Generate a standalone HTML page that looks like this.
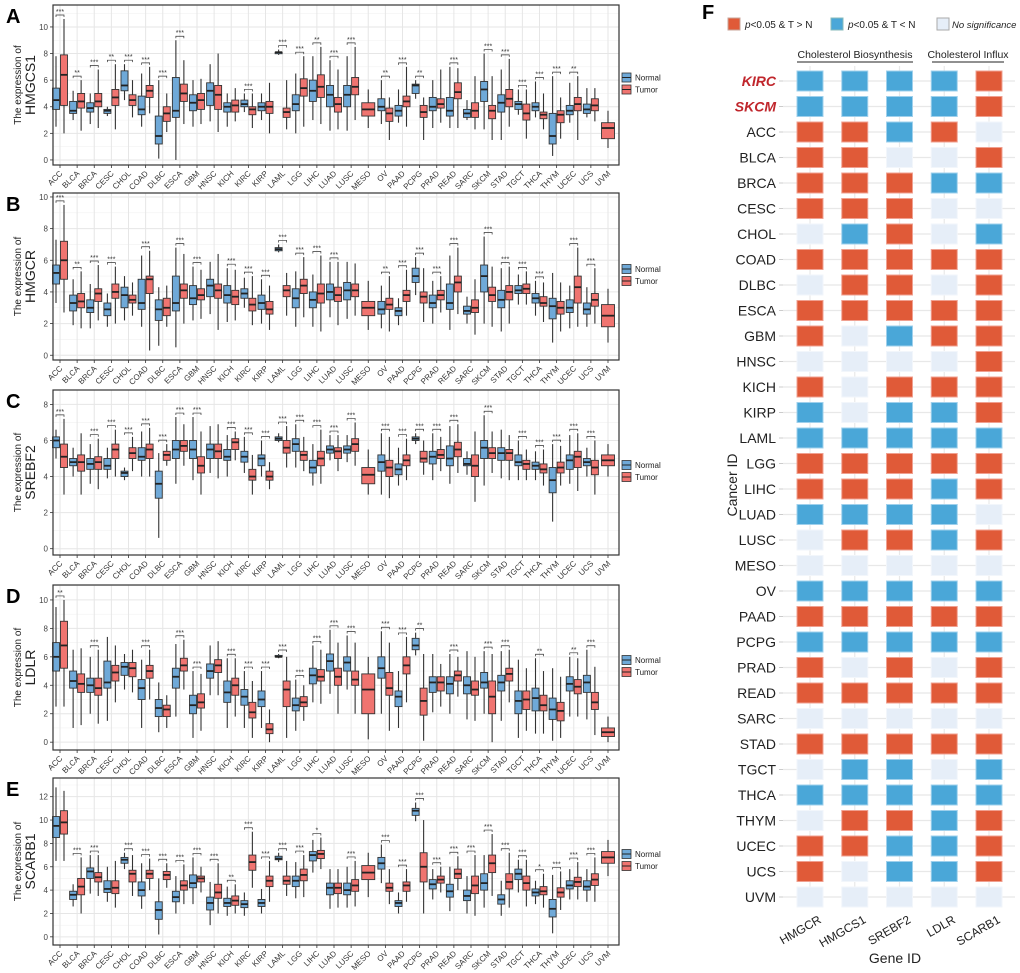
<!DOCTYPE html>
<html><head><meta charset="utf-8">
<style>
html,body{margin:0;padding:0;background:#fff;}
svg{display:block;font-family:"Liberation Sans",Arial,sans-serif;}
</style></head>
<body>
<svg id="fig" width="1020" height="973" viewBox="0 0 1020 973" xmlns="http://www.w3.org/2000/svg"></svg>
<script>
const cancers=["ACC","BLCA","BRCA","CESC","CHOL","COAD","DLBC","ESCA","GBM","HNSC","KICH","KIRC","KIRP","LAML","LGG","LIHC","LUAD","LUSC","MESO","OV","PAAD","PCPG","PRAD","READ","SARC","SKCM","STAD","TGCT","THCA","THYM","UCEC","UCS","UVM"];
const _=null;
// Panel A HMGCS1
const aNq1=[3.8,3.5,3.6,3.5,5.2,3.4,1.2,3.2,3.7,4.1,3.6,4.0,3.7,8.0,3.7,4.4,4.0,4.0,_,3.7,3.3,5.0,3.7,3.3,3.2,4.4,3.6,3.8,3.7,1.2,3.4,3.5,_];
const aNmed=[4.5,3.7,3.9,3.7,5.6,3.8,1.8,3.7,4.3,5.2,4.0,4.2,4.0,8.1,4.2,5.2,4.9,4.9,_,4.0,3.7,5.6,4.0,3.7,3.5,5.3,4.3,4.2,4.0,1.8,3.7,3.8,_];
const aNq3=[5.4,4.4,4.3,3.8,6.7,4.8,3.3,6.2,4.9,5.8,4.3,4.5,4.3,8.1,4.9,6.0,5.6,5.6,_,4.6,4.1,5.7,4.7,4.7,3.8,5.9,4.9,4.4,4.3,3.5,4.1,4.2,_];
const aNlo=[2.5,3.0,2.7,3.3,4.5,2.5,0.1,0.0,2.5,2.9,2.5,3.6,3.0,7.9,2.0,3.0,2.2,2.2,_,2.7,2.8,4.6,2.4,2.4,3.0,2.3,1.5,3.4,3.2,0.3,2.8,3.2,_];
const aNhi=[7.8,5.2,5.0,4.0,7.2,6.5,6.0,9.0,6.0,7.2,5.0,5.0,5.0,8.3,6.5,7.8,7.5,7.8,_,6.0,5.3,6.0,6.0,7.0,4.5,8.0,6.8,5.3,5.9,6.3,5.8,5.4,_];
const aTq1=[4.1,3.9,4.0,4.1,4.1,4.7,2.9,4.4,3.8,3.8,3.6,3.4,3.5,3.2,4.8,4.7,3.6,4.9,3.3,2.9,4.0,3.2,3.9,4.6,3.2,3.1,4.0,3.0,3.1,2.8,3.7,3.7,1.6];
const aTmed=[6.4,4.4,4.4,4.7,4.5,5.2,3.5,5.0,4.5,4.9,4.1,3.8,4.0,3.6,5.4,5.5,4.2,5.5,3.8,3.5,4.4,3.6,4.2,5.1,3.7,3.7,4.6,3.5,3.4,3.4,4.2,4.1,2.4];
const aTq3=[7.9,5.0,5.0,5.3,4.9,5.6,4.0,5.7,5.0,5.6,4.5,4.0,4.4,3.9,6.1,6.4,4.7,6.2,4.3,3.9,4.8,4.1,4.6,5.8,4.3,4.1,5.3,4.2,3.6,3.7,4.7,4.6,2.8];
const aTlo=[2.0,2.2,2.4,2.3,3.2,3.5,2.1,2.7,2.7,2.1,2.9,2.4,2.0,2.3,2.5,2.7,2.3,3.0,2.4,1.5,2.5,1.5,2.8,2.4,2.3,1.5,2.5,1.6,2.3,1.6,1.5,2.9,0.9];
const aThi=[10.6,6.0,6.8,7.2,6.0,7.0,5.0,7.5,6.1,8.0,5.4,5.0,5.8,6.0,7.8,8.5,6.8,8.5,5.3,4.7,7.0,4.7,6.8,6.9,6.3,6.3,7.6,5.3,5.0,4.7,6.3,5.4,3.7];
const aSig=["***","**","***","**","***","***","***","***","","","","***","","***","***","**","***","***","","**","***","**","","***","","***","***","***","***","***","**","",""];
// Panel B HMGCR
const bNq1=[4.5,2.8,2.7,2.5,3.0,2.9,2.2,2.8,3.2,3.7,3.3,3.6,2.9,6.6,3.0,3.0,3.5,3.5,_,2.6,2.5,4.6,3.0,2.9,2.6,4.0,3.0,3.9,3.3,2.3,2.7,2.6,_];
const bNmed=[5.2,3.3,3.0,2.9,3.8,3.3,2.9,3.3,3.6,4.4,3.8,3.9,3.3,6.7,3.6,3.5,4.0,4.1,_,2.9,2.8,5.0,3.3,3.3,2.8,5.0,3.5,4.1,3.6,3.1,3.0,2.9,_];
const bNq3=[5.7,3.8,3.5,3.3,4.3,4.8,3.5,5.0,4.4,4.8,4.4,4.2,3.8,6.8,4.2,4.0,4.5,4.6,_,3.4,3.0,5.5,3.8,4.5,3.1,5.7,4.1,4.4,3.9,3.6,3.5,3.3,_];
const bNlo=[3.3,1.9,1.7,1.8,2.2,1.8,0.6,0.5,2.2,2.6,2.1,3.0,2.0,6.5,1.8,1.8,2.4,2.3,_,1.7,1.9,3.8,2.0,1.6,2.0,2.0,1.5,3.2,2.5,0.8,1.7,1.8,_];
const bNhi=[7.3,4.8,4.5,3.9,5.0,6.3,4.3,6.8,5.6,5.9,5.5,4.9,4.8,7.0,5.3,5.1,5.9,5.9,_,4.4,3.6,6.2,4.7,6.3,3.7,7.5,5.5,5.1,4.7,5.2,4.4,4.3,_];
const bTq1=[4.8,3.0,3.4,3.6,3.3,3.9,2.5,3.6,3.5,3.6,3.2,2.8,2.6,3.7,3.9,3.3,3.4,3.7,2.5,2.9,3.4,3.3,3.5,4.0,2.7,3.4,3.5,3.9,3.1,2.6,3.3,3.1,1.8];
const bTmed=[6.0,3.4,3.9,4.0,3.5,4.8,3.0,4.1,3.8,4.1,3.7,3.2,2.9,4.1,4.4,3.9,3.8,4.1,3.0,3.2,3.8,3.7,3.8,4.6,3.0,3.8,4.0,4.2,3.3,3.0,4.3,3.5,2.5];
const bTq3=[7.2,3.9,4.2,4.5,3.8,5.0,3.6,4.5,4.2,4.5,4.1,3.6,3.4,4.4,4.8,4.5,4.3,4.5,3.4,3.6,4.1,4.0,4.1,5.0,3.5,4.3,4.4,4.5,3.7,3.4,5.0,3.9,3.2];
const bTlo=[2.7,1.7,2.2,2.0,2.5,0.3,1.8,2.0,2.3,1.6,2.2,1.9,1.6,2.5,2.4,1.5,1.9,2.5,1.6,1.5,2.5,2.1,2.7,2.6,1.3,1.8,2.0,3.2,2.1,1.5,1.8,2.0,0.8];
const bThi=[9.5,5.3,5.7,5.6,4.6,6.6,4.4,6.4,5.4,6.4,5.4,5.0,4.4,5.2,6.2,6.3,5.9,5.8,4.7,5.0,5.4,5.5,5.0,6.8,4.8,5.6,5.6,5.3,4.6,4.6,6.8,5.5,4.2];
const bSig=["***","**","***","***","","***","","***","***","","***","***","***","***","***","***","***","","","**","***","***","***","***","","***","***","***","***","","***","***",""];
// Panel C SREBF2
const cNq1=[5.6,4.6,4.4,4.4,4.0,4.9,2.8,5.0,5.0,5.0,4.9,4.8,4.6,6.0,5.4,4.2,5.3,5.3,_,4.3,4.1,6.0,4.7,4.6,4.6,5.0,4.9,4.6,4.4,3.1,4.4,4.6,_];
const cNmed=[6.0,4.8,4.7,4.6,4.2,5.1,3.6,5.5,5.5,5.5,5.1,5.1,5.0,6.1,5.8,4.5,5.5,5.5,_,4.8,4.4,6.1,5.1,5.0,4.7,5.6,5.3,4.8,4.6,3.8,4.9,4.8,_];
const cNq3=[6.2,5.0,5.0,5.0,4.3,5.6,4.3,6.0,6.0,5.8,5.5,5.4,5.2,6.2,6.1,4.9,5.7,5.7,_,5.2,4.7,6.2,5.4,5.7,5.0,6.0,5.6,5.2,4.8,4.5,5.2,5.0,_];
const cNlo=[5.0,4.0,3.6,3.9,3.8,4.0,0.6,3.6,3.8,4.2,4.0,4.2,4.0,5.9,4.5,3.5,4.9,4.8,_,3.0,3.5,5.8,3.8,3.6,4.1,3.5,3.9,3.8,3.8,1.5,3.6,4.0,_];
const cNhi=[6.6,5.6,5.8,5.6,4.5,6.5,5.3,7.3,7.3,6.8,6.3,6.2,6.0,6.4,6.9,5.8,6.3,6.3,_,6.4,5.6,6.4,6.4,6.8,5.4,7.4,6.6,6.0,5.4,5.8,6.3,5.6,_];
const cTq1=[4.5,4.3,4.4,5.0,5.0,5.0,4.9,5.4,4.2,5.0,5.5,3.8,3.8,5.3,4.9,4.6,5.0,5.4,3.6,4.0,4.6,4.8,5.0,5.1,4.0,5.0,4.9,4.4,4.2,4.2,4.5,4.1,4.6];
const cTmed=[5.1,4.8,4.8,5.5,5.3,5.5,5.2,5.7,4.6,5.4,5.9,4.0,4.0,5.6,5.2,5.0,5.4,5.8,4.1,4.5,4.9,5.0,5.2,5.5,4.6,5.3,5.3,4.7,4.4,4.5,5.1,4.5,4.9];
const cTq3=[5.8,5.2,5.1,5.8,5.6,5.8,5.4,6.0,5.1,5.8,6.1,4.4,4.3,6.0,5.4,5.4,5.6,6.1,4.5,4.9,5.2,5.4,5.5,5.9,5.2,5.6,5.5,4.9,4.7,4.8,5.4,4.9,5.2];
const cTlo=[3.0,3.0,3.3,4.0,4.3,4.0,4.6,4.6,3.0,3.9,4.9,3.0,3.3,4.5,4.3,3.6,4.3,4.6,3.0,2.8,3.8,4.1,4.3,4.2,2.6,4.2,3.8,3.8,3.5,3.5,3.2,3.0,4.0];
const cThi=[7.2,6.4,6.1,6.6,6.2,6.7,5.8,6.9,6.5,6.9,6.5,5.2,4.8,6.8,6.2,6.6,6.3,7.0,5.5,6.2,6.1,6.0,6.2,6.9,6.5,6.5,6.3,5.5,5.5,5.7,6.4,6.0,5.8];
const cSig=["***","","***","***","***","***","***","***","***","","***","***","***","***","***","***","***","***","","***","***","***","***","***","","***","","***","***","***","***","***",""];
// Panel D LDLR
const dNq1=[5.0,3.8,3.5,3.8,4.7,3.0,1.8,3.8,2.0,4.5,2.8,2.6,2.5,6.0,2.2,4.1,5.0,5.0,_,4.5,2.5,6.5,3.5,3.4,3.4,3.8,3.6,2.0,2.2,1.6,3.6,3.5,_];
const dNmed=[6.0,4.3,4.0,4.2,5.3,3.8,2.4,4.6,2.6,5.0,3.5,3.2,3.0,6.0,2.6,4.7,5.7,5.6,_,5.2,3.2,6.8,4.2,4.1,4.0,4.2,4.2,2.9,3.1,2.3,4.1,4.2,_];
const dNq3=[7.0,5.0,4.5,5.7,5.6,4.4,3.0,5.2,3.3,5.5,4.3,3.7,3.6,6.1,3.1,5.2,6.2,6.0,_,6.0,3.6,7.3,4.6,4.6,4.6,4.9,4.7,3.6,3.8,3.1,4.6,4.7,_];
const dNlo=[2.5,1.0,2.0,1.5,3.7,1.0,0.7,1.8,0.3,3.3,1.0,1.0,1.0,5.9,0.8,2.8,3.4,3.7,_,2.0,1.0,6.1,2.1,2.0,1.6,2.0,1.5,0.3,0.6,0.1,1.8,1.6,_];
const dNhi=[9.5,6.5,6.0,7.4,6.2,5.8,4.2,6.9,5.0,6.8,5.9,5.0,5.0,6.2,4.4,6.8,7.9,7.5,_,7.8,5.0,7.7,6.2,6.2,6.4,6.4,6.4,5.8,5.9,5.2,6.0,6.5,_];
const dTq1=[5.2,3.5,3.3,4.3,4.6,4.5,1.8,5.0,2.4,4.9,3.3,1.7,0.6,2.5,2.5,4.3,4.0,4.0,2.0,3.3,4.8,1.9,3.6,4.3,3.3,2.0,4.3,2.3,2.2,1.5,3.4,2.3,0.4];
const dTmed=[6.8,4.1,3.8,4.9,5.2,5.0,2.3,5.4,2.8,5.4,4.0,2.1,0.9,3.7,2.8,4.6,4.6,4.4,3.7,3.8,5.4,2.9,4.2,4.7,3.7,3.2,4.8,3.0,2.6,2.2,3.9,2.8,0.7];
const dTq3=[8.5,4.8,4.5,5.4,5.6,5.4,2.6,5.9,3.4,5.8,4.5,2.8,1.3,4.3,3.2,5.1,5.2,5.0,4.8,4.9,6.0,3.8,4.6,5.0,4.3,4.3,5.2,3.6,3.3,2.8,4.4,3.5,1.0];
const dTlo=[2.5,1.2,1.3,2.8,3.5,3.0,1.0,3.7,0.8,3.3,1.8,0.3,0.0,0.3,1.5,2.7,2.0,2.0,0.2,0.8,2.8,0.1,2.5,3.2,1.5,0.0,2.8,0.8,0.6,0.3,1.8,0.5,0.0];
const dThi=[10.0,6.6,6.5,6.8,6.5,6.5,3.3,7.2,4.8,7.1,5.9,4.3,2.3,6.0,4.0,6.5,7.0,7.0,6.0,7.0,7.4,6.2,5.5,6.0,6.0,6.2,6.5,5.2,5.0,4.6,5.9,5.3,1.8];
const dSig=["**","","***","","","***","","***","***","","***","***","***","***","***","***","***","***","","***","***","**","","***","","***","***","","**","","**","***",""];
// Panel E SCARB1
const eNq1=[8.5,3.2,5.0,3.8,6.3,3.5,1.5,3.0,4.2,2.3,2.6,2.5,2.6,6.6,4.3,6.5,3.6,3.6,_,5.8,2.6,10.4,4.1,3.4,3.1,4.0,2.8,4.9,3.5,1.7,4.1,4.0,_];
const eNmed=[9.5,3.6,5.6,4.1,6.6,4.0,2.3,3.4,4.6,2.9,2.9,2.8,2.9,6.7,4.8,7.0,4.2,4.0,_,6.3,2.9,10.8,4.5,3.9,3.5,4.6,3.2,5.4,3.8,2.4,4.4,4.3,_];
const eNq3=[10.3,3.9,5.9,4.8,6.8,4.7,3.0,3.9,5.3,3.4,3.3,3.1,3.2,6.9,5.2,7.3,4.6,4.6,_,6.8,3.1,11.0,4.9,4.5,4.0,5.4,3.6,5.8,4.1,3.2,4.8,4.8,_];
const eNlo=[6.5,2.6,3.7,3.0,5.8,2.4,0.2,2.0,2.8,1.0,1.8,1.8,2.0,6.4,3.3,5.5,2.4,2.5,_,4.6,2.0,9.9,3.2,2.2,2.0,2.5,1.8,3.8,2.8,0.3,3.2,3.0,_];
const eNhi=[12.8,4.5,7.0,6.0,7.2,6.3,5.0,5.2,6.8,4.7,4.3,3.8,4.1,7.2,6.4,8.3,5.8,6.0,_,7.9,3.8,11.5,5.8,6.0,5.2,7.0,4.8,6.6,4.8,5.3,5.8,5.8,_];
const eTq1=[8.8,3.6,4.7,3.7,4.7,5.0,4.9,4.0,4.7,3.3,2.7,5.7,4.3,4.5,4.8,6.7,3.7,3.9,4.9,3.9,3.9,4.7,4.6,5.0,3.7,5.5,4.1,4.0,3.6,3.4,4.3,4.4,6.3];
const eTmed=[9.8,4.3,5.1,4.2,5.4,5.4,5.3,4.4,5.0,3.8,3.1,6.4,4.8,4.8,5.3,7.1,4.2,4.4,5.5,4.2,4.4,6.0,4.9,5.4,4.4,6.3,4.7,4.6,3.9,3.8,4.7,4.9,6.8];
const eTq3=[10.8,5.0,5.5,4.8,5.7,5.7,5.6,4.8,5.2,4.5,3.5,7.0,5.2,5.2,5.8,7.4,4.6,4.9,6.1,4.6,4.7,7.2,5.2,5.8,5.2,7.0,5.4,5.2,4.3,4.2,5.1,5.4,7.3];
const eTlo=[6.5,2.0,3.5,2.5,3.5,4.0,4.2,2.8,3.8,2.0,2.0,4.2,3.0,3.5,3.4,5.8,2.5,2.6,3.4,2.8,3.0,2.0,3.8,4.0,1.8,3.5,2.5,2.6,2.5,2.3,3.2,3.0,5.2];
const eThi=[12.5,6.8,7.0,6.5,7.0,6.7,6.3,6.2,6.0,6.3,4.5,9.0,6.5,6.5,7.0,8.5,5.8,6.5,7.2,5.8,5.8,10.0,6.0,6.9,7.0,8.8,7.2,6.6,5.4,5.6,6.4,6.8,8.3];
const eSig=["","***","***","","***","***","***","***","***","***","**","***","***","***","***","*","","***","","***","***","***","***","***","***","***","***","***","*","***","***","***",""];
const ticksA=[0,2,4,6,8,10];
const ticksC=[0,2,4,6,8];
const ticksE=[0,2,4,6,8,10,12];
// Panel F heatmap
const genes=["HMGCR","HMGCS1","SREBF2","LDLR","SCARB1"];
const heatRows=["KIRC","SKCM","ACC","BLCA","BRCA","CESC","CHOL","COAD","DLBC","ESCA","GBM","HNSC","KICH","KIRP","LAML","LGG","LIHC","LUAD","LUSC","MESO","OV","PAAD","PCPG","PRAD","READ","SARC","STAD","TGCT","THCA","THYM","UCEC","UCS","UVM"];
const heatVals=["BBBBR","BBBBR","RRBRN","RRNNR","RRRBB","RRRNN","NBRNB","RRRRR","NRRNR","RRRRR","RNBRR","NNNNR","RNRRR","BNBBR","BBBBB","RRRRR","RRRBR","BBBBN","NRRBR","NNNNN","BBBBB","RRRRR","BBBBB","RNRNR","RRRRR","NNNNN","RRRRR","NBBNB","BBBBB","NRRBR","RRBBR","RNBBR","NNNNN"];

const NS="http://www.w3.org/2000/svg";
const svg=document.getElementById('fig');
function mk(tag,attrs,parent,text){const e=document.createElementNS(NS,tag);for(const k in attrs)e.setAttribute(k,attrs[k]);if(text!==undefined)e.textContent=text;(parent||svg).appendChild(e);return e;}

const BLUE="#6fa9d8",RED="#f07470";
const X0=60,XSTEP=17.125,PL=53,PR=619;
const panels=[
 {id:"a",letter:"A",gene:"HMGCS1",top:5,bot:165,ymin:-0.38,ymax:11.65,ticks:ticksA,d:[aNq1,aNmed,aNq3,aNlo,aNhi,aTq1,aTmed,aTq3,aTlo,aThi],sig:aSig},
 {id:"b",letter:"B",gene:"HMGCR",top:193,bot:360,ymin:-0.3,ymax:10.25,ticks:ticksA,d:[bNq1,bNmed,bNq3,bNlo,bNhi,bTq1,bTmed,bTq3,bTlo,bThi],sig:bSig},
 {id:"c",letter:"C",gene:"SREBF2",top:390,bot:555,ymin:-0.35,ymax:8.8,ticks:ticksC,d:[cNq1,cNmed,cNq3,cNlo,cNhi,cTq1,cTmed,cTq3,cTlo,cThi],sig:cSig},
 {id:"d",letter:"D",gene:"LDLR",top:585,bot:750,ymin:-0.55,ymax:11.05,ticks:ticksA,d:[dNq1,dNmed,dNq3,dNlo,dNhi,dTq1,dTmed,dTq3,dTlo,dThi],sig:dSig},
 {id:"e",letter:"E",gene:"SCARB1",top:778,bot:945,ymin:-0.7,ymax:13.6,ticks:ticksE,d:[eNq1,eNmed,eNq3,eNlo,eNhi,eTq1,eTmed,eTq3,eTlo,eThi],sig:eSig}
];

function drawBox(g,x,w,q1,med,q3,lo,hi,fill,Y){
  mk('line',{x1:x,x2:x,y1:Y(lo),y2:Y(hi),stroke:'#333','stroke-width':1.1},g);
  const r=mk('rect',{x:x-w/2,y:Y(q3),width:w,height:Math.max(1.5,Y(q1)-Y(q3)),fill:fill,stroke:'#333','stroke-width':0.9},g);
  mk('line',{x1:x-w/2,x2:x+w/2,y1:Y(med),y2:Y(med),stroke:'#222','stroke-width':1.8},g);
  return r;
}

panels.forEach(p=>{
  const g=mk('g',{});
  
  
  const Y=v=>p.bot-(v-p.ymin)/(p.ymax-p.ymin)*(p.bot-p.top);
  const X=i=>X0+i*XSTEP;
  mk('rect',{x:PL,y:p.top,width:PR-PL,height:p.bot-p.top,fill:'#fff'},g);
  for(let i=0;i<p.ticks.length;i++){const v=p.ticks[i]+1;if(v<p.ymax)mk('line',{x1:PL,x2:PR,y1:Y(v),y2:Y(v),stroke:'#f2f2f2','stroke-width':0.6},g);}
  p.ticks.forEach(t=>{mk('line',{x1:PL,x2:PR,y1:Y(t),y2:Y(t),stroke:'#e6e6e6','stroke-width':1},g);
    const tl=mk('text',{x:PL-5,y:Y(t)+3,'font-size':8,'text-anchor':'end',fill:'#444'},g,String(t));
    
    
    mk('line',{x1:PL-3,x2:PL,y1:Y(t),y2:Y(t),stroke:'#333','stroke-width':0.8},g);});
  cancers.forEach((c,i)=>{mk('line',{x1:X(i),x2:X(i),y1:p.top,y2:p.bot,stroke:'#e6e6e6','stroke-width':1},g);});
  const [nq1,nmed,nq3,nlo,nhi,tq1,tmed,tq3,tlo,thi]=p.d;
  cancers.forEach((c,i)=>{
    const hasN=nmed[i]!==null;
    if(hasN){const b=drawBox(g,X(i)-4,7,nq1[i],nmed[i],nq3[i],nlo[i],nhi[i],BLUE,Y);
      
      }
    const tx=hasN?X(i)+4:X(i), tw=hasN?7:13;
    const b2=drawBox(g,tx,tw,tq1[i],tmed[i],tq3[i],tlo[i],thi[i],RED,Y);
    
    
    if(p.sig[i]){
      const top=Math.max(hasN?nhi[i]:0,thi[i]);
      const by=Y(top)-4;
      mk('path',{d:`M${X(i)-4},${by+2}V${by}H${X(i)+4}V${by+2}`,fill:'none',stroke:'#333','stroke-width':0.7},g);
      const st=mk('text',{x:X(i),y:by-1,'font-size':7,'text-anchor':'middle',fill:'#333'},g,p.sig[i]);
      
      
    }
    const lab=mk('text',{x:X(i)+3,y:p.bot+9,'font-size':8,'text-anchor':'end',fill:'#333',transform:`rotate(-45 ${X(i)+3} ${p.bot+9})`},g,c);
    
    
    mk('line',{x1:X(i),x2:X(i),y1:p.bot,y2:p.bot+3,stroke:'#333','stroke-width':0.8},g);
  });
  mk('rect',{x:PL,y:p.top,width:PR-PL,height:p.bot-p.top,fill:'none',stroke:'#333','stroke-width':1.2},g);
  const mid=(p.top+p.bot)/2;
  const t1=mk('text',{x:21,y:mid,'font-size':10,'text-anchor':'middle',fill:'#222',transform:`rotate(-90 21 ${mid})`},g,'The expression of');
  
  
  const t2=mk('text',{x:35,y:mid,'font-size':14,'text-anchor':'middle',fill:'#222',transform:`rotate(-90 35 ${mid})`},g,p.gene);
  
  
  const L=mk('text',{x:6,y:p.top+18,'font-size':20,'font-weight':'bold',fill:'#000'},g,p.letter);
  
  
  const lg=mk('g',{},g);
  
  
  mk('rect',{x:622,y:mid-12,width:9,height:9,fill:BLUE,stroke:'#333','stroke-width':0.8},lg);
  mk('line',{x1:622,x2:631,y1:mid-7.5,y2:mid-7.5,stroke:'#222','stroke-width':1},lg);
  mk('text',{x:635,y:mid-4.5,'font-size':8,fill:'#222'},lg,'Normal');
  mk('rect',{x:622,y:mid,width:9,height:9,fill:RED,stroke:'#333','stroke-width':0.8},lg);
  mk('line',{x1:622,x2:631,y1:mid+4.5,y2:mid+4.5,stroke:'#222','stroke-width':1},lg);
  mk('text',{x:635,y:mid+7.5,'font-size':8,fill:'#222'},lg,'Tumor');
});

// Heatmap F
(function(){
  const g=mk('g',{});
  
  
  const CX=j=>810+j*44.75, RY=i=>81+i*25.5;
  const col={R:"#e05a38",B:"#4aa7d8",N:"#e6eef8"};
  const stroke={R:"#f0a090",B:"#9fd0ec",N:"#f2f6fb"};
  heatRows.forEach((r,i)=>mk('line',{x1:783,x2:1015,y1:RY(i),y2:RY(i),stroke:'#e8e8e8','stroke-width':1.2},g));
  genes.forEach((gn,j)=>mk('line',{x1:CX(j),x2:CX(j),y1:66,y2:906,stroke:'#e8e8e8','stroke-width':1.2},g));
  heatRows.forEach((r,i)=>{
    genes.forEach((gn,j)=>{
      const v=heatVals[i][j];
      const c=mk('rect',{x:CX(j)-13,y:RY(i)-10,width:26,height:20,fill:col[v],stroke:stroke[v],'stroke-width':1},g);
      
      
    });
    const hi=(r==="KIRC"||r==="SKCM");
    const t=mk('text',{x:776,y:RY(i)+5,'font-size':14,'text-anchor':'end',fill:hi?'#c0262c':'#222','font-weight':hi?'bold':'normal','font-style':hi?'italic':'normal'},g,r);
    
    
    mk('line',{x1:779,x2:783,y1:RY(i),y2:RY(i),stroke:'#ccc'},g);
  });
  genes.forEach((gn,j)=>{
    const x=CX(j)+12,y=922;
    const t=mk('text',{x:x,y:y,'font-size':12,'text-anchor':'end',fill:'#222',transform:`rotate(-30 ${x} ${y})`},g,gn);
    
    
  });
  const gx=mk('text',{x:895,y:963,'font-size':14,'text-anchor':'middle',fill:'#222'},g,'Gene ID');
  
  
  const cy=mk('text',{x:737,y:485,'font-size':14,'text-anchor':'middle',fill:'#222',transform:'rotate(-90 737 485)'},g,'Cancer ID');
  
  
  const h1=mk('text',{x:855,y:58,'font-size':10.5,'text-anchor':'middle',fill:'#222'},g,'Cholesterol Biosynthesis');
  
  
  mk('line',{x1:797,x2:913,y1:62,y2:62,stroke:'#222','stroke-width':1},g);
  const h2=mk('text',{x:968,y:58,'font-size':10.5,'text-anchor':'middle',fill:'#222'},g,'Cholesterol Influx');
  
  
  mk('line',{x1:932,x2:1004,y1:62,y2:62,stroke:'#222','stroke-width':1},g);
  const F=mk('text',{x:702,y:19,'font-size':20,'font-weight':'bold',fill:'#000'},g,'F');
  
  
  const lg=mk('g',{},g);
  
  
  mk('rect',{x:728,y:18,width:12,height:12,fill:col.R,stroke:'#c9a59a'},lg);
  const l1=mk('text',{x:745,y:28,'font-size':10,fill:'#222'},lg);
  mk('tspan',{'font-style':'italic'},l1,'p');mk('tspan',{},l1,'<0.05 & T > N');
  mk('rect',{x:831,y:18,width:12,height:12,fill:col.B,stroke:'#8bb'},lg);
  const l2=mk('text',{x:848,y:28,'font-size':10,fill:'#222'},lg);
  mk('tspan',{'font-style':'italic'},l2,'p');mk('tspan',{},l2,'<0.05 & T < N');
  mk('rect',{x:937,y:18,width:12,height:12,fill:col.N,stroke:'#aaa'},lg);
  mk('text',{x:952,y:28,'font-size':9.5,'font-style':'italic',fill:'#222'},lg,'No significance');
})();
</script>
</body></html>
